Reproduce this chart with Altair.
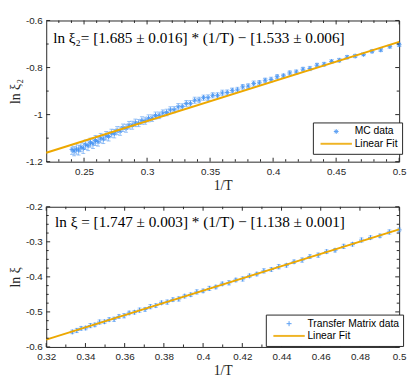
import altair as alt
import pandas as pd

# ---------------- data ----------------
# Top panel: MC data (1/T, ln xi_2, error)
MC_X = [0.5000, 0.4926, 0.4854, 0.4785, 0.4717, 0.4651, 0.4587, 0.4525, 0.4464,
        0.4405, 0.4348, 0.4292, 0.4237, 0.4184, 0.4132, 0.4082, 0.4032,
        0.3984, 0.3937, 0.3891, 0.3846, 0.3802, 0.3759, 0.3717, 0.3676, 0.3636, 0.3597, 0.3559, 0.3521,
        0.3484, 0.3448, 0.3413, 0.3378, 0.3344, 0.3311, 0.3279, 0.3247, 0.3215, 0.3185, 0.3155, 0.3125,
        0.3096, 0.3067, 0.3040, 0.3012,
        0.2985, 0.2959, 0.2933, 0.2907, 0.2882, 0.2857, 0.2833, 0.2809, 0.2786, 0.2762, 0.2740, 0.2717,
        0.2695, 0.2674, 0.2653, 0.2632, 0.2611, 0.2591, 0.2571, 0.2551, 0.2532, 0.2513, 0.2494, 0.2475,
        0.2457, 0.2439, 0.2421, 0.2404]
MC_Y = [-0.703, -0.711, -0.725, -0.731, -0.744, -0.751, -0.756, -0.769, -0.774,
        -0.786, -0.790, -0.804, -0.807, -0.819, -0.823, -0.835, -0.839,
        -0.851, -0.854, -0.865, -0.868, -0.879, -0.882, -0.895, -0.897, -0.906, -0.908, -0.918, -0.918,
        -0.928, -0.928, -0.938, -0.939, -0.952, -0.953, -0.966, -0.967, -0.979, -0.980, -0.991, -0.993,
        -1.003, -1.004, -1.015, -1.016,
        -1.026, -1.025, -1.036, -1.035, -1.045, -1.045, -1.058, -1.056, -1.070, -1.068, -1.081, -1.079,
        -1.093, -1.090, -1.104, -1.100, -1.115, -1.110, -1.124, -1.119, -1.132, -1.128, -1.143, -1.138,
        -1.151, -1.146, -1.155, -1.148]
MC_ERR = [0.007, 0.006, 0.007, 0.007, 0.006, 0.007, 0.007, 0.008, 0.007,
          0.008, 0.008, 0.009, 0.008, 0.009, 0.009, 0.008, 0.009,
          0.010, 0.009, 0.010, 0.011, 0.010, 0.010, 0.011, 0.010, 0.011, 0.012, 0.011, 0.011,
          0.012, 0.011, 0.012, 0.013, 0.012, 0.013, 0.012, 0.014, 0.013, 0.013, 0.014, 0.013,
          0.014, 0.015, 0.014, 0.015,
          0.015, 0.016, 0.015, 0.016, 0.017, 0.016, 0.017, 0.016, 0.018, 0.017, 0.018, 0.017,
          0.019, 0.018, 0.019, 0.020, 0.019, 0.021, 0.020, 0.019, 0.021, 0.020, 0.022, 0.020,
          0.021, 0.022, 0.020, 0.021]
FIT1_X = [0.22, 0.50]
FIT1_Y = [-1.162, -0.691]

# Bottom panel: transfer matrix data
TM_X = [0.5000, 0.4950, 0.4902, 0.4854, 0.4808, 0.4762, 0.4717, 0.4673, 0.4630, 0.4587,
        0.4545, 0.4505, 0.4464, 0.4425, 0.4386, 0.4348, 0.4310, 0.4274, 0.4237, 0.4202,
        0.4167, 0.4132, 0.4098, 0.4065, 0.4032, 0.4000, 0.3968, 0.3937, 0.3906, 0.3876,
        0.3846, 0.3817, 0.3788, 0.3759, 0.3731, 0.3704, 0.3676, 0.3650, 0.3623, 0.3597,
        0.3571, 0.3546, 0.3521, 0.3497, 0.3472, 0.3448, 0.3425, 0.3401, 0.3378, 0.3356, 0.3333]
TM_Y = [-0.266, -0.272, -0.283, -0.288, -0.295, -0.307, -0.313, -0.324, -0.328, -0.338,
        -0.342, -0.352, -0.357, -0.367, -0.371, -0.379, -0.383, -0.392, -0.397, -0.406,
        -0.409, -0.417, -0.420, -0.429, -0.433, -0.440, -0.443, -0.451, -0.455, -0.463,
        -0.465, -0.472, -0.474, -0.482, -0.485, -0.493, -0.495, -0.501, -0.503, -0.511,
        -0.513, -0.521, -0.522, -0.528, -0.529, -0.537, -0.539, -0.546, -0.547, -0.553, -0.557]
TM_ERR = [0.005, 0.006, 0.005, 0.005, 0.006, 0.005, 0.006, 0.005, 0.005, 0.006,
          0.005, 0.006, 0.005, 0.005, 0.006, 0.005, 0.006, 0.005, 0.005, 0.006,
          0.005, 0.006, 0.005, 0.005, 0.006, 0.005, 0.006, 0.005, 0.005, 0.006,
          0.005, 0.006, 0.005, 0.005, 0.006, 0.005, 0.006, 0.005, 0.005, 0.006,
          0.005, 0.006, 0.005, 0.005, 0.006, 0.005, 0.006, 0.005, 0.005, 0.006, 0.005]
FIT2_X = [0.32, 0.50]
FIT2_Y = [-0.579, -0.2645]

# axis ticks
TOP_XDOM = [0.22, 0.5]
TOP_YDOM = [-1.2, -0.6]
TOP_XTICKS = [0.25, 0.3, 0.35, 0.4, 0.45, 0.5]
TOP_XMINOR = [0.23, 0.24, 0.26, 0.27, 0.28, 0.29, 0.31, 0.32, 0.33, 0.34, 0.36, 0.37, 0.38, 0.39,
              0.41, 0.42, 0.43, 0.44, 0.46, 0.47, 0.48, 0.49]
TOP_YTICKS = [-1.2, -1, -0.8, -0.6]
TOP_YMINOR = [-1.1, -0.9, -0.7]

BOT_XDOM = [0.32, 0.5]
BOT_YDOM = [-0.6, -0.2]
BOT_XTICKS = [0.32, 0.34, 0.36, 0.38, 0.4, 0.42, 0.44, 0.46, 0.48, 0.5]
BOT_XMINOR = [0.33, 0.35, 0.37, 0.39, 0.41, 0.43, 0.45, 0.47, 0.49]
BOT_YTICKS = [-0.6, -0.5, -0.4, -0.3, -0.2]
BOT_YMINOR = [-0.575, -0.55, -0.525, -0.475, -0.45, -0.425, -0.375, -0.35, -0.325,
              -0.275, -0.25, -0.225]

TOP_TEXT = "ln ξ₂= [1.685 ± 0.016] * (1/T) − [1.533 ± 0.006]"
BOT_TEXT = "ln ξ = [1.747 ± 0.003] * (1/T) − [1.138 ± 0.001]"

BLUE = "#3D8EF2"
ORANGE = "#EDA800"
AX = "#262626"
ASTERISK = "M0,-1L0,1M-1,0L1,0M-0.7,-0.7L0.7,0.7M-0.7,0.7L0.7,-0.7"
PLUS = "M0,-1L0,1M-1,0L1,0"

W = 360
LEG_LINE = 32  # legend line sample length in px


def panel(xs_, ys_, es_, fx, fy, xdom, ydom, xt, xm, yt, ym, H, label, ann, ann_x, ann_y,
          pshape, psize, ytitle, legx, legy):
    df = pd.DataFrame({"x": xs_, "y": ys_,
                       "lo": [a - b for a, b in zip(ys_, es_)],
                       "hi": [a + b for a, b in zip(ys_, es_)],
                       "series": label})
    fdf = pd.DataFrame({"x": fx, "y": fy})
    xsc = alt.Scale(domain=xdom, nice=False, zero=False)
    ysc = alt.Scale(domain=ydom, nice=False, zero=False)
    common = dict(labelExpr="'' + datum.value", ticks=False, domain=False, grid=False,
                  labelFont="Liberation Sans", labelFontSize=10, labelColor=AX, tickCount=30,
                  labelOverlap=False, labelFlush=False, labelBound=False,
                  titleFont="Liberation Serif", titleFontSize=14, titleFontWeight="normal",
                  titleColor=AX)
    xaxis = alt.Axis(values=xt, labelPadding=5, titlePadding=2, title="1/T", **common)
    yaxis = alt.Axis(values=yt, labelPadding=4, titlePadding=3, title=ytitle, **common)

    def X(f):
        return alt.X(f, type="quantitative", scale=xsc, axis=xaxis)

    def Y(f):
        return alt.Y(f, type="quantitative", scale=ysc, axis=yaxis)

    unit = psize ** 0.5 / 2.0
    half = LEG_LINE / 2.0 / unit
    hline = "M%.3f,0L%.3f,0" % (-half, half)
    sym_off = 1 + LEG_LINE / 2.0 - unit
    dom = [label, "Linear Fit"]
    legend = alt.Legend(title=None, orient="none", legendX=legx, legendY=legy,
                        strokeColor=AX, fillColor="white", padding=4, cornerRadius=0,
                        labelFont="Liberation Sans", labelFontSize=10.5, labelColor="#000000",
                        symbolSize=psize, symbolOffset=sym_off,
                        labelOffset=LEG_LINE + 4 - 2 * unit - sym_off - 3, rowPadding=1.5)

    bars = alt.Chart(df).mark_rule(color=BLUE, opacity=0.5, strokeWidth=1).encode(
        x=X("x"), y=Y("lo"), y2="hi")
    cap_lo = alt.Chart(df).mark_tick(orient="horizontal", size=4, thickness=1, color=BLUE,
                                     opacity=0.5).encode(x=X("x"), y=Y("lo"))
    cap_hi = alt.Chart(df).mark_tick(orient="horizontal", size=4, thickness=1, color=BLUE,
                                     opacity=0.5).encode(x=X("x"), y=Y("hi"))
    pts = alt.Chart(df).mark_point(filled=False, opacity=0.85, size=psize).encode(
        x=X("x"), y=Y("y"),
        color=alt.Color("series:N", scale=alt.Scale(domain=dom, range=[BLUE, ORANGE]), legend=legend),
        shape=alt.Shape("series:N", scale=alt.Scale(domain=dom, range=[pshape, hline]), legend=legend),
        strokeWidth=alt.StrokeWidth("series:N", scale=alt.Scale(domain=dom, range=[1, 2]), legend=legend),
    )
    fit = alt.Chart(fdf).mark_line(color=ORANGE, strokeWidth=2).encode(x=X("x"), y=Y("y"))
    txt = alt.Chart(pd.DataFrame({"t": [ann]})).mark_text(
        align="left", baseline="middle", font="Liberation Serif", fontSize=15.5, color="#000000"
    ).encode(x=alt.datum(ann_x, scale=xsc), y=alt.datum(ann_y, scale=ysc), text="t:N")

    def tick_layer(vals, ch, length, side):
        d = pd.DataFrame({"v": vals})
        r = alt.Chart(d).mark_rule(color=AX, strokeWidth=1)
        if ch == "x":
            if side == "bottom":
                return r.encode(x=X("v"), y=alt.value(H), y2=alt.value(H - length))
            return r.encode(x=X("v"), y=alt.value(0), y2=alt.value(length))
        if side == "left":
            return r.encode(y=Y("v"), x=alt.value(0), x2=alt.value(length))
        return r.encode(y=Y("v"), x=alt.value(W), x2=alt.value(W - length))

    ticks = []
    for side in ("bottom", "top"):
        ticks.append(tick_layer(xt, "x", 4, side))
        ticks.append(tick_layer(xm, "x", 2.5, side))
    for side in ("left", "right"):
        ticks.append(tick_layer(yt, "y", 4, side))
        ticks.append(tick_layer(ym, "y", 2.5, side))

    return alt.layer(bars, cap_lo, cap_hi, pts, fit, txt, *ticks).properties(width=W, height=H)


top = panel(MC_X, MC_Y, MC_ERR, FIT1_X, FIT1_Y, TOP_XDOM, TOP_YDOM, TOP_XTICKS, TOP_XMINOR,
            TOP_YTICKS, TOP_YMINOR, 144, "MC data", TOP_TEXT, 0.2255, -0.673,
            ASTERISK, 24, "ln ξ₂", 272, 104)
bottom = panel(TM_X, TM_Y, TM_ERR, FIT2_X, FIT2_Y, BOT_XDOM, BOT_YDOM, BOT_XTICKS, BOT_XMINOR,
               BOT_YTICKS, BOT_YMINOR, 143, "Transfer Matrix data", BOT_TEXT, 0.3245, -0.244,
               PLUS, 26, "ln ξ", 224, 110)

chart = alt.vconcat(top, bottom, spacing=8).resolve_scale(
    color="independent", shape="independent", strokeWidth="independent"
).configure_view(stroke=AX, strokeWidth=1).configure_axis(labelOverlap=False).properties(
    padding={"left": 0, "top": 3, "right": 0, "bottom": 0}, background="white"
)

chart.save("out.html", embed_options={"renderer": "svg", "actions": False})
